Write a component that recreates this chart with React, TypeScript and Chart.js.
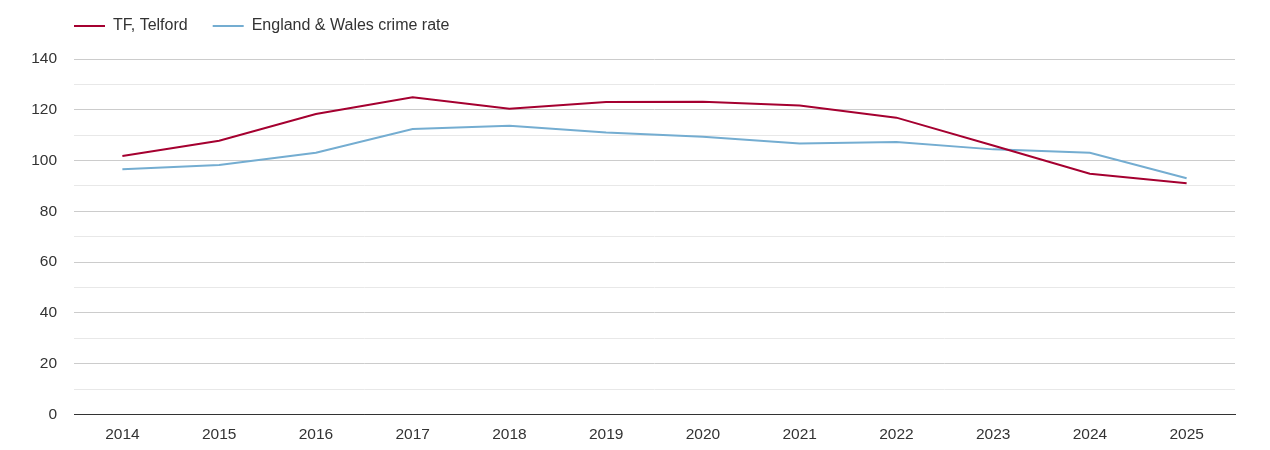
import React, { useEffect, useRef } from 'react';
import { Chart, registerables } from 'chart.js';

Chart.register(...registerables);

const years = ['2014', '2015', '2016', '2017', '2018', '2019', '2020', '2021', '2022', '2023', '2024', '2025'];
const telford = [101.8, 107.8, 118.3, 124.9, 120.4, 123.1, 123.2, 121.7, 116.9, 105.9, 94.8, 91.1];
const englandWales = [96.6, 98.2, 103.1, 112.4, 113.7, 111.0, 109.4, 106.7, 107.3, 104.4, 103.1, 93.0];

const FONT = '"Liberation Sans", Arial, sans-serif';

// legend sits a little higher and further right than chart.js puts it
const legendNudge = {
  id: 'legendNudge',
  afterInit(chart: any) {
    const legend = chart.legend;
    if (!legend) return;
    const draw = legend.draw;
    legend.draw = function () {
      const c = this.ctx;
      c.save();
      c.translate(17, -15);
      draw.call(this);
      c.restore();
    };
  },
};

export default function App() {
  const canvasRef = useRef<HTMLCanvasElement>(null);
  useEffect(() => {
    const ctx = canvasRef.current!.getContext('2d')!;
    const chart = new Chart(ctx, {
      type: 'line',
      data: {
        labels: years,
        datasets: [
          {
            label: 'TF, Telford',
            data: telford,
            borderColor: '#a50030',
            backgroundColor: '#a50030',
            borderWidth: 2,
            pointRadius: 0,
            tension: 0,
          },
          {
            label: 'England & Wales crime rate',
            data: englandWales,
            borderColor: '#74add1',
            backgroundColor: '#74add1',
            borderWidth: 2,
            pointRadius: 0,
            tension: 0,
          },
        ],
      },
      plugins: [legendNudge],
      options: {
        responsive: true,
        maintainAspectRatio: false,
        animation: false,
        layout: { padding: { left: 24, right: 27, top: 0, bottom: 0 } },
        plugins: {
          tooltip: { enabled: false },
          legend: {
            align: 'start',
            labels: {
              boxWidth: 31,
              boxHeight: 2,
              padding: 25,
              color: '#333',
              font: { family: FONT, size: 16 },
              generateLabels: (ch: any) =>
                Chart.defaults.plugins.legend.labels.generateLabels(ch).map((l: any) => ({ ...l, lineWidth: 0 })),
            },
          },
        },
        scales: {
          x: {
            offset: true,
            grid: { display: false, drawTicks: false },
            border: { display: true, color: '#333', width: 1 },
            ticks: { color: '#333', font: { family: FONT, size: 15.5 }, padding: 11 },
          },
          y: {
            min: 0,
            max: 140,
            border: { display: false },
            afterFit: (s: any) => {
              s.width = 42;
            },
            grid: {
              drawTicks: false,
              color: (c: any) => (c.tick.value === 0 ? '#333' : c.tick.value % 20 === 0 ? '#cccccc' : '#e8e8e8'),
            },
            ticks: {
              stepSize: 10,
              padding: 17,
              color: '#333',
              font: { family: FONT, size: 15.5 },
              callback: (v: any) => (Number(v) % 20 === 0 ? String(v) : ''),
            },
          },
        },
      },
    });
    return () => chart.destroy();
  }, []);
  return (
    <div style={{ height: 447, position: 'relative' }}>
      <canvas ref={canvasRef} aria-label="TF, Telford crime rate chart"></canvas>
    </div>
  );
}
